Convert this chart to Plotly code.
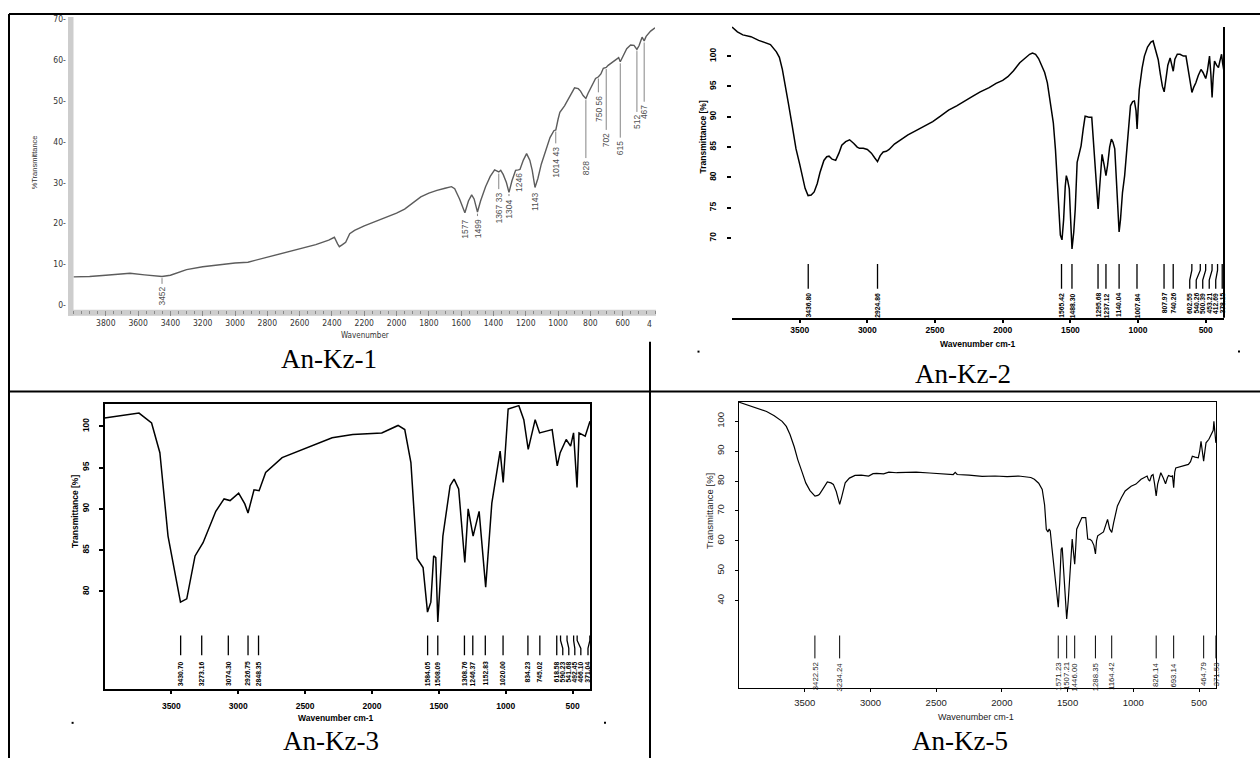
import plotly.graph_objects as go
import numpy as np

W, H = 1260, 758

# ---------------- DATA ----------------
# An-Kz-1 : wavenumber (cm-1) / %T
P1_WN = [4000, 3900, 3800, 3700, 3650, 3560, 3452, 3400, 3350, 3300, 3200, 3100, 3000, 2920, 2850, 2800,
         2700, 2600, 2500, 2420, 2385, 2365, 2354, 2335, 2315, 2290, 2260, 2200, 2100, 2000, 1950, 1900,
         1850, 1800, 1750, 1700, 1660, 1640, 1610, 1577, 1555, 1535, 1520, 1499, 1480, 1449, 1420, 1393,
         1375, 1367, 1355, 1340, 1320, 1304, 1285, 1263, 1246, 1236, 1215, 1195, 1175, 1160, 1143, 1125,
         1104, 1077, 1050, 1026, 1014, 1000, 989, 960, 943, 920, 898, 875, 861, 845, 828, 815, 799, 780,
         768, 750, 735, 720, 702, 690, 665, 640, 625, 615, 600, 575, 551, 530, 512, 499, 480, 472, 467,
         455, 427, 400]
P1_T = [6.9, 7.0, 7.3, 7.6, 7.8, 7.4, 7.0, 7.3, 8.0, 8.7, 9.4, 9.9, 10.3, 10.5, 11.2, 11.8,
        12.7, 13.7, 14.8, 15.9, 16.6, 15.0, 14.3, 14.8, 15.4, 17.5, 18.3, 19.4, 20.9, 22.5, 23.5, 25.0,
        26.5, 27.4, 28.1, 28.6, 29.0, 28.5, 26.0, 22.6, 25.5, 27.0, 26.0, 22.8, 25.5, 29.0, 31.5, 33.1,
        32.8, 32.6, 33.0, 32.0, 30.0, 27.6, 30.5, 33.0, 33.1, 33.2, 35.5, 37.1, 35.5, 33.0, 28.8, 31.0,
        34.5, 38.0, 41.0, 42.7, 42.9, 45.5, 47.2, 48.8, 50.0, 51.8, 53.2, 53.0, 52.4, 51.3, 50.6, 51.8, 53.2, 54.8,
        55.5, 55.9, 56.6, 58.0, 58.2, 58.7, 59.4, 60.2, 60.6, 59.6, 60.8, 62.8, 63.7, 63.6, 62.6, 63.5, 65.6, 65.2, 64.7,
        65.8, 67.1, 67.9]
P1_PEAKS = [3452, 1577, 1499, 1367.33, 1304, 1246, 1143, 1014.43, 828, 750.56, 702, 615, 512, 467]
P1_LABELS = ["3452", "1577", "1499", "1367 33", "1304", "1246", "1143", "1014 43", "828", "750 56",
             "702", "615", "512", "467"]
P1_LABEL_TOP = [4.9, 21.5, 21.5, 28.1, 26.4, 32.8, 28.3, 39.3, 35.7, 51.8, 42.6, 40.7, 47.0, 49.5]
P1_XTICKS = [3800, 3600, 3400, 3200, 3000, 2800, 2600, 2400, 2200, 2000, 1800, 1600, 1400, 1200, 1000, 800, 600]
P1_YTICKS = [0, 10, 20, 30, 40, 50, 60, 70]

# An-Kz-2
P2_WN = [4000, 3960, 3920, 3860, 3803, 3760, 3716, 3672, 3650, 3628, 3605, 3584, 3555, 3527, 3500, 3482,
         3460, 3438, 3415, 3393, 3370, 3350, 3321, 3300, 3283, 3260, 3234, 3210, 3189, 3160, 3131, 3100,
         3075, 3058, 3030, 3000, 2970, 2945, 2925, 2905, 2883, 2860, 2839, 2800, 2751, 2700, 2634, 2580,
         2517, 2460, 2400, 2340, 2284, 2220, 2166, 2100, 2049, 2000, 1962, 1920, 1874, 1840, 1801, 1780,
         1757, 1735, 1714, 1690, 1670, 1650, 1626, 1610, 1596, 1584, 1574, 1562, 1550, 1538, 1530, 1520,
         1508, 1498, 1488, 1475, 1464, 1450, 1421, 1405, 1391, 1375, 1362, 1342, 1330, 1319, 1305, 1295,
         1285, 1275, 1266, 1250, 1237, 1225, 1210, 1197, 1185, 1172, 1160, 1148, 1140, 1130, 1115, 1099,
         1080, 1056, 1040, 1027, 1015, 1007, 999, 991, 970, 953, 930, 905, 889, 875, 865, 851, 835, 820,
         807, 795, 780, 763, 752, 740, 728, 710, 690, 665, 646, 630, 615, 602, 590, 573, 555, 535, 520,
         500, 488, 472, 462, 453, 445, 435, 420, 406, 395, 383, 375, 365]
P2_T = [104.8, 104.0, 103.5, 103.2, 102.6, 102.3, 101.9, 100.7, 99.8, 97.8, 95.2, 92.3, 88.5, 84.7, 82.2, 80.3,
        78.2, 77.0, 77.1, 77.6, 79.0, 80.8, 82.8, 83.4, 83.5, 83.0, 82.8, 84.0, 85.3, 85.9, 86.2, 85.6,
        85.0, 84.8, 84.8, 84.6, 84.0, 83.2, 82.6, 83.6, 84.2, 84.3, 84.6, 85.5, 86.3, 87.0, 87.8, 88.4,
        89.2, 90.1, 91.1, 91.8, 92.6, 93.4, 94.1, 94.8, 95.5, 96.0, 96.6, 97.6, 98.9, 99.6, 100.3, 100.5,
        100.3, 99.6, 98.6, 97.3, 95.6, 92.8, 89.0, 84.5, 79.2, 74.0, 70.5, 69.7, 73.0, 78.5, 80.3, 79.5,
        78.1, 73.0, 68.2, 71.0, 74.8, 82.5, 85.2, 88.0, 90.1, 90.0, 89.9, 89.9, 86.0, 82.5, 78.0, 74.8,
        78.0, 82.0, 83.8, 82.0, 80.3, 82.0, 85.0, 86.3, 85.8, 84.7, 80.0, 74.5, 71.0, 73.0, 77.5, 80.3,
        85.0, 91.8, 92.5, 92.6, 91.0, 88.0, 91.5, 94.5, 98.0, 100.0, 101.5, 102.3, 102.5, 101.5, 100.5, 99.4, 97.0, 95.0,
        94.1, 96.0, 98.5, 99.7, 98.8, 97.5, 99.5, 100.3, 100.3, 100.0, 100.0, 98.0, 95.5, 94.0, 94.8, 95.6, 96.8, 97.8, 97.3,
        96.3, 97.5, 100.0, 97.0, 93.2, 96.5, 99.2, 98.5, 98.1, 99.2, 100.3, 98.8, 97.5]
P2_PEAKS = [3436.80, 2924.86, 1565.42, 1488.30, 1295.68, 1237.12, 1140.04, 1007.84, 807.97, 740.26,
            602.55, 540.26, 500.39, 453.21, 412.69, 378.15]
P2_XTICKS = [3500, 3000, 2500, 2000, 1500, 1000, 500]
P2_YTICKS = [70, 75, 80, 85, 90, 95, 100]

# An-Kz-3
P3_WN = [4000, 3742, 3648, 3586, 3525, 3432, 3385, 3323, 3263, 3168, 3106, 3061, 2997, 2951, 2927, 2882,
         2844, 2795, 2672, 2485, 2298, 2144, 1927, 1805, 1755, 1709, 1663, 1618, 1585, 1560, 1539, 1523,
         1508, 1470, 1416, 1386, 1352, 1306, 1281, 1244, 1199, 1150, 1104, 1042, 1019, 982, 902, 865, 832,
         780, 747, 653, 615, 593, 548, 515, 493, 467, 452, 406, 370]
P3_T = [101.0, 101.6, 100.4, 96.8, 86.7, 78.7, 79.1, 84.3, 85.9, 89.7, 91.2, 91.0, 91.9, 90.6, 89.5, 92.3,
        92.2, 94.4, 96.2, 97.4, 98.6, 99.0, 99.2, 100.1, 99.6, 95.6, 84.0, 82.9, 77.5, 78.7, 84.3, 84.1,
        76.3, 86.7, 92.8, 93.6, 92.4, 83.5, 90.0, 86.7, 89.7, 80.5, 90.7, 97.0, 93.2, 102.1, 102.5, 100.8, 97.2,
        100.8, 99.2, 99.6, 95.2, 96.8, 98.4, 97.6, 99.2, 92.6, 99.2, 98.8, 100.6]
P3_PEAKS = [3430.70, 3273.16, 3074.30, 2926.75, 2848.35, 1584.05, 1508.09, 1308.76, 1246.37, 1152.83,
            1020.00, 834.23, 745.02, 618.58, 590.23, 541.68, 492.45, 466.10, 371.04]
P3_XTICKS = [3500, 3000, 2500, 2000, 1500, 1000, 500]
P3_YTICKS = [80, 85, 90, 95, 100]

# An-Kz-5
P5_WN = [4000, 3940, 3852, 3790, 3732, 3672, 3640, 3612, 3580, 3553, 3520, 3492, 3460, 3432, 3422, 3400,
         3388, 3360, 3328, 3300, 3282, 3260, 3245, 3234, 3220, 3192, 3160, 3117, 3070, 3014, 2980, 2953,
         2900, 2860, 2800, 2700, 2652, 2550, 2450, 2370, 2355, 2340, 2250, 2150, 2052, 1960, 1872, 1820,
         1780, 1753, 1720, 1693, 1675, 1662, 1650, 1640, 1632, 1620, 1608, 1590, 1571, 1560, 1549, 1541,
         1530, 1518, 1507, 1495, 1480, 1465, 1455, 1446, 1438, 1431, 1410, 1391, 1362, 1347, 1330, 1316,
         1300, 1288, 1280, 1271, 1227, 1210, 1196, 1180, 1164, 1150, 1121, 1090, 1062, 1017, 980, 941,
         910, 895, 885, 875, 862, 850, 838, 826, 815, 803, 791, 772, 755, 740, 732, 712, 702, 693, 685,
         677, 640, 600, 581, 565, 551, 530, 506, 495, 485, 475, 465, 460, 447, 425, 402, 392, 387, 382,
         378, 372]
P5_T = [106.4, 105.5, 104.4, 103.3, 101.9, 100.0, 98.3, 95.6, 91.5, 87.2, 83.0, 79.4, 76.8, 75.2, 75.0, 75.2,
        75.6, 77.5, 79.7, 79.4, 78.9, 76.5, 73.5, 72.2, 74.5, 79.4, 81.0, 81.9, 82.0, 81.7, 82.5, 82.6,
        82.4, 83.0, 82.8, 83.0, 83.0, 82.7, 82.4, 82.2, 82.9, 82.2, 82.0, 81.6, 81.7, 81.5, 81.7, 81.5,
        81.2, 80.6, 79.3, 77.2, 72.0, 63.9, 63.0, 64.0, 63.3, 58.0, 52.8, 44.0, 37.8, 46.0, 57.2, 57.8,
        50.0, 40.0, 33.9, 40.0, 49.4, 60.6, 56.0, 52.2, 58.0, 63.9, 66.0, 67.8, 67.8, 60.6, 60.5, 60.0,
        58.5, 55.6, 60.0, 61.7, 63.0, 65.0, 67.2, 64.0, 62.8, 66.0, 71.7, 74.5, 76.7, 78.3, 79.0, 80.6,
        81.5, 81.7, 80.5, 80.0, 81.8, 82.2, 79.0, 75.0, 79.0, 81.5, 82.8, 81.0, 79.1, 81.2, 81.9, 81.5, 81.7, 77.8, 83.0,
        84.4, 84.9, 85.2, 85.6, 86.5, 88.3, 88.0, 87.8, 90.0, 93.3, 90.0, 86.7, 88.5, 92.8, 94.0, 96.1, 97.0, 100.0, 97.0,
        94.0, 92.8]
P5_PEAKS = [3422.52, 3234.24, 1571.23, 1507.21, 1446.00, 1288.35, 1164.42, 826.14, 693.14, 464.79, 371.53]
P5_XTICKS = [3500, 3000, 2500, 2000, 1500, 1000, 500]
P5_YTICKS = [40, 50, 60, 70, 80, 90, 100]

CAPTIONS = ["An-Kz-1", "An-Kz-2", "An-Kz-3", "An-Kz-5"]

# ---------------- helpers ----------------
def fx(px):
    return px / W


def fy(py):
    return 1 - py / H


NARROW = "Liberation Sans Narrow, DejaVu Sans Condensed, Liberation Sans, Arial"
SANS = "Liberation Sans, Arial, DejaVu Sans"
SERIF = "Liberation Serif, Times New Roman, serif"

fig = go.Figure()
annotations = []
shapes = []


def curve(wn, t, xa, ya, color, width):
    fig.add_trace(go.Scatter(x=wn, y=t, mode="lines", line=dict(color=color, width=width),
                             xaxis=xa, yaxis=ya, hoverinfo="skip"))


def spread(peaks, gap, limit, direction):
    """Label positions avoiding overlap; 'up' pushes to higher wn, 'down' to lower."""
    res = {}
    prev = None
    if direction == "up":
        for p in sorted(peaks):
            l = max(p, limit) if prev is None else max(p, prev + gap)
            res[p] = l
            prev = l
    else:
        for p in sorted(peaks, reverse=True):
            l = p if prev is None else min(p, prev - gap)
            l = max(l, limit)
            res[p] = l
            prev = l
    return [res[p] for p in peaks]


def marker_lines(peaks, labels_x, top, bottom, xa, ya, color, width):
    xs, ys = [], []
    for p, l in zip(peaks, labels_x):
        if abs(p - l) > 1:
            xs += [l, l, p, p, None]
            ys += [bottom, bottom + 0.35 * (top - bottom), bottom + 0.75 * (top - bottom), top, None]
        else:
            xs += [p, p, None]
            ys += [bottom, top, None]
    fig.add_trace(go.Scatter(x=xs, y=ys, mode="lines", line=dict(color=color, width=width),
                             xaxis=xa, yaxis=ya, hoverinfo="skip"))


def vlabels(xs, ytops, texts, xa, ya, font):
    for x, yt, t in zip(xs, ytops, texts):
        annotations.append(dict(x=x, y=yt, xref=xa, yref=ya, text=t, showarrow=False,
                                textangle=-90, xanchor="center", yanchor="top", font=font))


def paper_text(px, py, text, font, angle=0):
    annotations.append(dict(x=fx(px), y=fy(py), xref="paper", yref="paper", text=text, showarrow=False,
                            textangle=angle, xanchor="center", yanchor="middle", font=font))


# ---------------- Panel 1 ----------------
curve(P1_WN, P1_T, "x", "y", "#5c5c5c", 1.4)
asc_wn1 = P1_WN[::-1]
asc_t1 = P1_T[::-1]
xs, ys = [], []
for p, top in zip(P1_PEAKS, P1_LABEL_TOP):
    tc = float(np.interp(p, asc_wn1, asc_t1)) - 0.4
    if tc - top > 0.8:
        xs += [p, p, None]
        ys += [tc, top + 0.3, None]
fig.add_trace(go.Scatter(x=xs, y=ys, mode="lines", line=dict(color="#777777", width=0.9),
                         xaxis="x", yaxis="y", hoverinfo="skip"))
vlabels(P1_PEAKS, P1_LABEL_TOP, P1_LABELS, "x", "y", dict(family=SANS, size=8.5, color="#505050"))
annotations.append(dict(x=400, y=fy(322), xref="x", yref="paper", text="4", showarrow=False,
                        xanchor="right", yanchor="middle", xshift=-1,
                        font=dict(family=NARROW, size=8.5, color="#333")))
paper_text(34, 160, "%Transmittance", dict(family=SANS, size=7.5, color="#333"), -90)
paper_text(365, 333.5, "Wavenumber", dict(family=NARROW, size=8, color="#333"))
shapes.append(dict(type="rect", xref="paper", yref="paper", x0=fx(68), x1=fx(73.5), y0=fy(314), y1=fy(14),
                   fillcolor="#cdcdcd", line=dict(width=0), layer="below"))
shapes.append(dict(type="rect", xref="paper", yref="paper", x0=fx(68), x1=fx(656), y0=fy(314), y1=fy(308),
                   fillcolor="#cdcdcd", line=dict(width=0), layer="below"))

# ---------------- Panel 2 ----------------
curve(P2_WN, P2_T, "x2", "y2", "#000000", 1.5)
lab2 = spread(P2_PEAKS, 48, 372, "up")
marker_lines(P2_PEAKS, lab2, 65.73, 61.63, "x2", "y2", "#000000", 1.3)
vlabels(lab2, [61.3] * len(lab2), ["<b>%.2f</b>" % p for p in P2_PEAKS], "x2", "y2",
        dict(family=SANS, size=6.8, color="#000"))
paper_text(703, 135, "<b>Transmittance [%]</b>", dict(family=SANS, size=8.5, color="#000"), -90)
paper_text(978, 342, "<b>Wavenumber cm-1</b>", dict(family=SANS, size=8.5, color="#000"))
shapes.append(dict(type="line", xref="paper", yref="paper", x0=fx(1224), x1=fx(1224), y0=fy(316), y1=fy(24),
                   line=dict(color="#000", width=2)))

# ---------------- Panel 3 ----------------
curve(P3_WN, P3_T, "x3", "y3", "#000000", 1.5)
lab3 = spread(P3_PEAKS, 45, 385, "down")
marker_lines(P3_PEAKS, lab3, 74.67, 72.26, "x3", "y3", "#000000", 1.3)
vlabels(lab3, [71.8] * len(lab3), ["<b>%.2f</b>" % p for p in P3_PEAKS], "x3", "y3",
        dict(family=SANS, size=6.8, color="#000"))
paper_text(75, 511, "<b>Transmittance [%]</b>", dict(family=SANS, size=8.5, color="#000"), -90)
paper_text(336, 718, "<b>Wavenumber cm-1</b>", dict(family=SANS, size=8.5, color="#000"))

# ---------------- Panel 5 ----------------
curve(P5_WN, P5_T, "x4", "y4", "#000000", 1.2)
marker_lines(P5_PEAKS, P5_PEAKS, 28.33, 20.67, "x4", "y4", "#000000", 1.0)
vlabels(P5_PEAKS, [20.0] * len(P5_PEAKS), ["%.2f" % p for p in P5_PEAKS], "x4", "y4",
        dict(family=SANS, size=7.8, color="#222"))
paper_text(710, 510, "Transmittance [%]", dict(family=SANS, size=9.5, color="#222"), -90)
paper_text(976, 717, "Wavenumber cm-1", dict(family=SANS, size=9, color="#222"))

# ---------------- captions & table ----------------
cap_font = dict(family=SERIF, size=27, color="#000")
for (px, py), c in zip([(328.5, 357), (963, 372), (331, 741), (960, 741)], CAPTIONS):
    paper_text(px, py, c, cap_font)

for x0, y0, x1, y1 in [(9, 11, 1260, 11), (9, 11, 9, 758), (9, 390, 1260, 390), (650, 340, 650, 758)]:
    shapes.append(dict(type="line", xref="paper", yref="paper", x0=fx(x0), x1=fx(x1), y0=fy(y0), y1=fy(y1),
                       line=dict(color="#000", width=2)))
for px, py in [(698.5, 350), (1239, 350), (72.6, 722.7), (605, 722.7)]:
    shapes.append(dict(type="rect", xref="paper", yref="paper", x0=fx(px - 1), x1=fx(px + 1),
                       y0=fy(py + 1), y1=fy(py - 1), fillcolor="#000", line=dict(width=0)))

# ---------------- axes ----------------
common = dict(showgrid=False, zeroline=False)
bold = lambda v: "<b>%d</b>" % v

layout_axes = dict(
    xaxis=dict(domain=[fx(73.5), fx(655)], range=[4000, 400], anchor="y", showline=False,
               tickmode="array", tickvals=P1_XTICKS, ticktext=[str(v) for v in P1_XTICKS],
               ticks="outside", ticklen=5, tickwidth=1, tickcolor="#8a8a8a", ticklabelstandoff=0,
               minor=dict(ticks="outside", tickmode="linear", tick0=0, dtick=50, ticklen=3,
                          tickcolor="#8a8a8a", tickwidth=1),
               tickfont=dict(family=NARROW, size=8.5, color="#333"), **common),
    yaxis=dict(domain=[fy(308), fy(14)], range=[-1.15, 70.56], anchor="x", showline=False,
               tickmode="array", tickvals=P1_YTICKS, ticktext=["%d-" % v for v in P1_YTICKS],
               ticks="outside", ticklen=5, tickcolor="rgba(0,0,0,0)", ticklabelstandoff=0,
               tickfont=dict(family=NARROW, size=8.5, color="#333"), **common),
    xaxis2=dict(domain=[fx(732), fx(1224)], range=[4000, 365], anchor="y2", showline=True,
                linecolor="#000", linewidth=2, tickmode="array", tickvals=P2_XTICKS,
                ticktext=[bold(v) for v in P2_XTICKS], ticks="outside", ticklen=3, tickwidth=1.5,
                tickcolor="#000", ticklabelstandoff=0, tickfont=dict(family=SANS, size=8.5, color="#000"),
                **common),
    yaxis2=dict(domain=[fy(316), fy(20)], range=[56.86, 105.47], anchor="x2", showline=False,
                tickmode="array", tickvals=P2_YTICKS, ticktext=[bold(v) for v in P2_YTICKS], tickangle=-90,
                ticks="outside", ticklen=4, tickwidth=1.5, tickcolor="#000", ticklabelstandoff=8,
                tickfont=dict(family=SANS, size=8.5, color="#000"), **common),
    xaxis3=dict(domain=[fx(104.5), fx(590)], range=[4000, 370], anchor="y3", showline=True, mirror=True,
                linecolor="#000", linewidth=2, tickmode="array", tickvals=P3_XTICKS,
                ticktext=[bold(v) for v in P3_XTICKS], ticks="outside", ticklen=3, tickwidth=1.5,
                tickcolor="#000", ticklabelstandoff=5, tickfont=dict(family=SANS, size=8.5, color="#000"),
                **common),
    yaxis3=dict(domain=[fy(689), fy(403)], range=[68.15, 102.65], anchor="x3", showline=True, mirror=True,
                linecolor="#000", linewidth=2, tickmode="array", tickvals=P3_YTICKS,
                ticktext=[bold(v) for v in P3_YTICKS], tickangle=-90, ticks="outside", ticklen=4,
                tickwidth=1.5, tickcolor="#000", ticklabelstandoff=6,
                tickfont=dict(family=SANS, size=8.5, color="#000"), **common),
    xaxis4=dict(domain=[fx(739), fx(1216)], range=[4000, 371], anchor="y4", showline=True, mirror=True,
                linecolor="#000", linewidth=1.2, tickmode="array", tickvals=P5_XTICKS,
                ticktext=[str(v) for v in P5_XTICKS], ticks="outside", ticklen=3, tickwidth=1,
                tickcolor="#000", ticklabelstandoff=3, tickfont=dict(family=SANS, size=9.5, color="#222"),
                **common),
    yaxis4=dict(domain=[fy(687.7), fy(400.7)], range=[10.77, 106.43], anchor="x4", showline=True, mirror=True,
                linecolor="#000", linewidth=1.2, tickmode="array", tickvals=P5_YTICKS,
                ticktext=[str(v) for v in P5_YTICKS], tickangle=-90, ticks="outside", ticklen=3,
                tickwidth=1, tickcolor="#000", ticklabelstandoff=7,
                tickfont=dict(family=SANS, size=9.5, color="#222"), **common),
)

fig.update_layout(width=W, height=H, margin=dict(l=0, r=0, t=0, b=0), paper_bgcolor="white",
                  plot_bgcolor="white", showlegend=False, hovermode=False,
                  annotations=annotations, shapes=shapes, **layout_axes)

fig.write_html("out.html")
